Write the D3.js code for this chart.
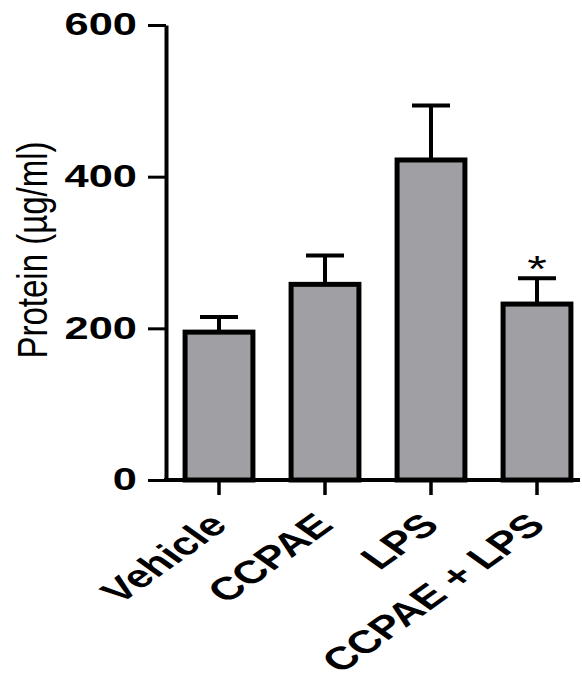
<!DOCTYPE html>
<html>
<head>
<meta charset="utf-8">
<script src="https://cdn.jsdelivr.net/npm/d3@7"></script>
<style>
  body { margin: 0; background: #fff; }
  text { font-family: "Liberation Sans", Arial, sans-serif; }
</style>
</head>
<body>
<svg id="chart" width="582" height="685"></svg>
<script>
// data
const groups = ['Vehicle', 'CCPAE', 'LPS', 'CCPAE + LPS'];
const means  = [195, 258, 422, 232];
const sems   = [20, 38, 72, 34];
const marks  = ['', '', '', '*'];
const yTicks = [0, 200, 400, 600];

const svg = d3.select('#chart');
const stretch = 1.4;   // the figure is drawn wide, text included

const y = d3.scaleLinear().domain([0, 600]).range([480, 25]);
const x = d3.scaleBand()
  .domain(groups)
  .range([166, 590])
  .paddingInner(0.36)
  .paddingOuter(0.18);

// bars
svg.append('g')
  .selectAll('rect')
  .data(groups)
  .join('rect')
    .attr('x', d => x(d))
    .attr('width', x.bandwidth())
    .attr('y', (d, i) => y(means[i]))
    .attr('height', (d, i) => y(0) - y(means[i]))
    .attr('fill', '#a09fa4')
    .attr('stroke', '#000')
    .attr('stroke-width', 5);

// error bars (upper only)
const err = svg.append('g').attr('stroke', '#000').attr('stroke-width', 4);
groups.forEach((g, i) => {
  const cx = x(g) + x.bandwidth() / 2;
  err.append('line')
    .attr('x1', cx).attr('x2', cx)
    .attr('y1', y(means[i])).attr('y2', y(means[i] + sems[i]));
  err.append('line')
    .attr('x1', cx - 19).attr('x2', cx + 19)
    .attr('y1', y(means[i] + sems[i])).attr('y2', y(means[i] + sems[i]));
});

// significance marks
svg.append('g')
  .selectAll('text')
  .data(groups)
  .join('text')
    .attr('transform', (d, i) =>
      `translate(${x(d) + x.bandwidth() / 2}, ${y(means[i] + sems[i]) + 4}) scale(${stretch},1)`)
    .attr('text-anchor', 'middle')
    .attr('font-size', 36)
    .text((d, i) => marks[i]);

// y axis
const yAxis = svg.append('g')
  .attr('transform', 'translate(166,0)')
  .call(d3.axisLeft(y).tickValues(yTicks).tickSize(18).tickSizeOuter(0).tickFormat(d3.format('d')));
yAxis.select('.domain').attr('stroke-width', 4);
yAxis.selectAll('.tick line').attr('stroke-width', 3);
yAxis.selectAll('.tick text')
  .attr('x', null)
  .attr('transform', `translate(-29,0) scale(${stretch},1)`)
  .attr('font-size', 31)
  .attr('font-weight', 'bold')
  .attr('fill', '#000');

// x axis
const xAxis = svg.append('g')
  .attr('transform', 'translate(0,480)')
  .call(d3.axisBottom(x).tickSize(15).tickSizeOuter(0));
xAxis.select('.domain').remove();
xAxis.append('line')
  .attr('x1', 164).attr('x2', 580)
  .attr('stroke', '#000').attr('stroke-width', 4);
xAxis.selectAll('.tick line').attr('stroke-width', 3.5);
xAxis.selectAll('.tick text')
  .attr('x', null).attr('y', null).attr('dy', null)
  .attr('text-anchor', 'end')
  .attr('transform', `translate(10,47) scale(${stretch},1) rotate(-45)`)
  .attr('font-size', 32)
  .attr('font-weight', 'bold')
  .attr('fill', '#000');

// y label
svg.append('text')
  .attr('transform', 'translate(47,250) rotate(-90) scale(1,1.3)')
  .attr('text-anchor', 'middle')
  .attr('font-size', 33)
  .text('Protein (µg/ml)');
</script>
</body>
</html>
